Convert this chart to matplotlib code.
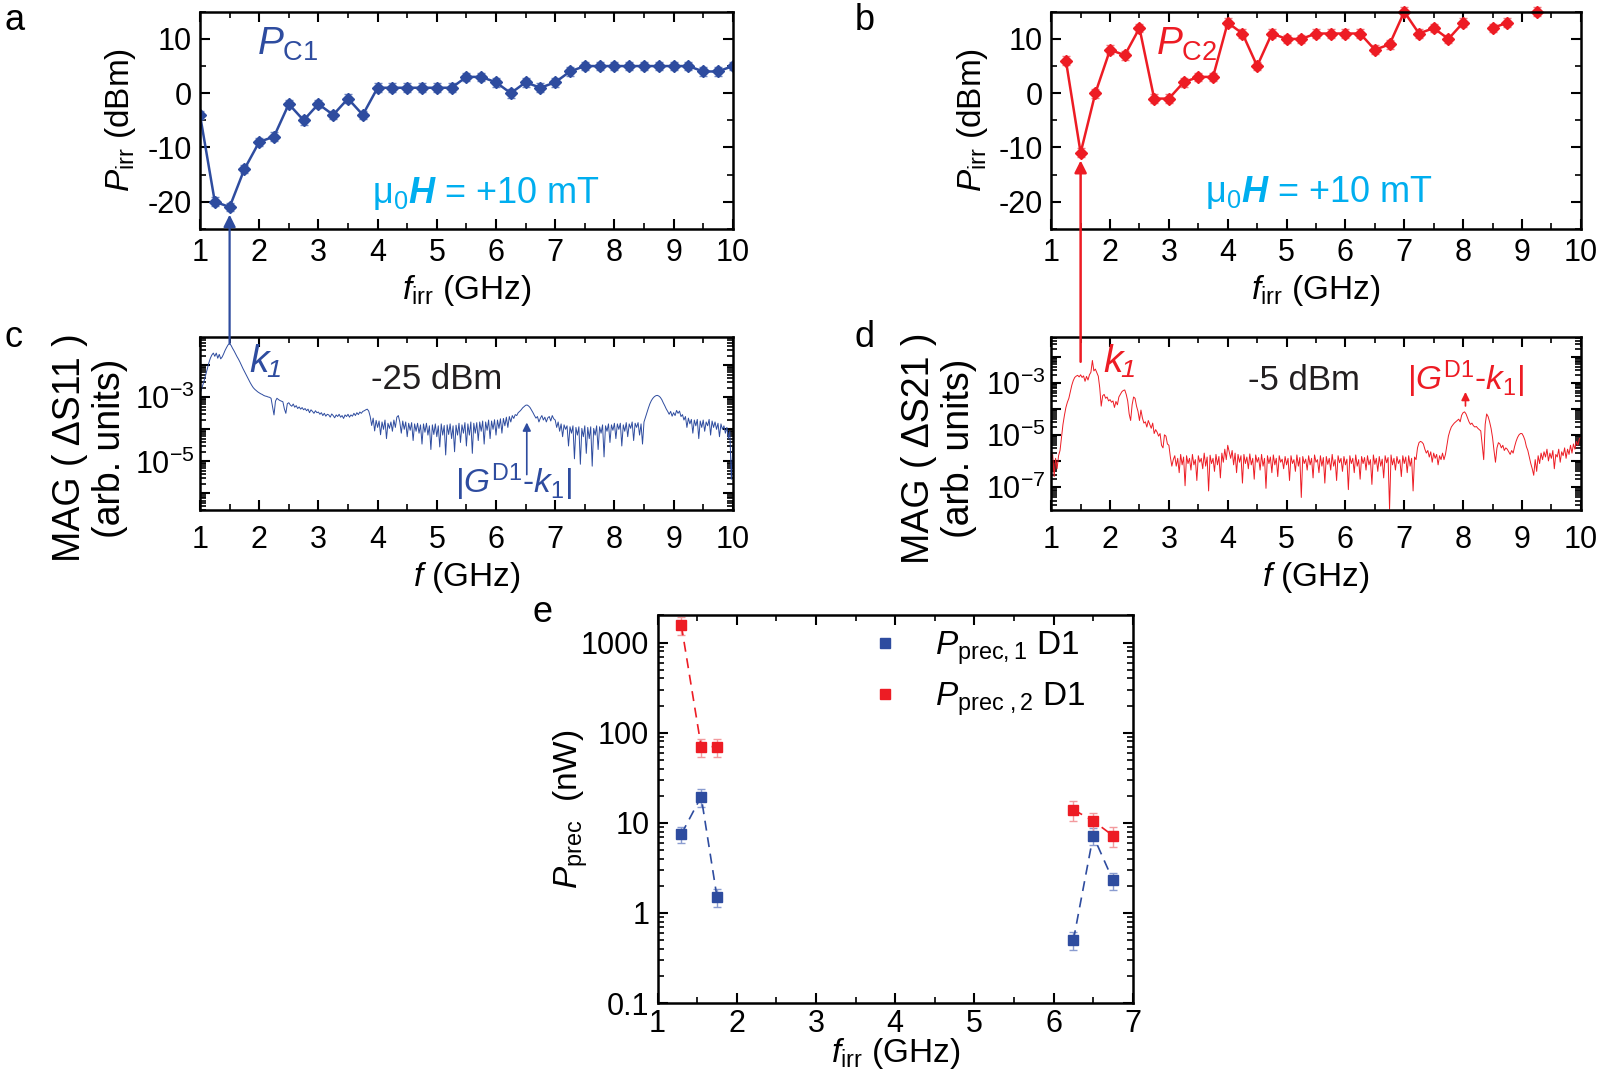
import numpy as np
import matplotlib
matplotlib.use("Agg")
import matplotlib.pyplot as plt
from matplotlib.patches import ConnectionPatch
from matplotlib.lines import Line2D
from matplotlib.ticker import FixedLocator, LogLocator, NullFormatter, FuncFormatter, MultipleLocator

plt.rcParams['font.family'] = ['Liberation Sans', 'DejaVu Sans']
plt.rcParams['mathtext.fontset'] = 'custom'
plt.rcParams['mathtext.rm'] = 'Liberation Sans'
plt.rcParams['mathtext.it'] = 'Liberation Sans:italic'
plt.rcParams['mathtext.bf'] = 'Liberation Sans:bold'
try:
    plt.rcParams['mathtext.bfit'] = 'Liberation Sans:bold:italic'
    HAS_BFIT = True
except KeyError:
    HAS_BFIT = False
plt.rcParams['axes.unicode_minus'] = False

BLUE = '#2E4C9F'
RED = '#ED1C24'
CYAN = '#00AEEF'

# ---------------- panel a data ----------------
f_irr_a = [1.0, 1.25, 1.5, 1.75, 2.0, 2.25, 2.5, 2.75, 3.0, 3.25, 3.5, 3.75, 4.0, 4.25,
           4.5, 4.75, 5.0, 5.25, 5.5, 5.75, 6.0, 6.25, 6.5, 6.75, 7.0, 7.25, 7.5, 7.75,
           8.0, 8.25, 8.5, 8.75, 9.0, 9.25, 9.5, 9.75, 10.0]
p_c1 = [-4, -20, -21, -14, -9, -8, -2, -5, -2, -4, -1, -4, 1, 1, 1, 1, 1, 1, 3, 3, 2, 0,
        2, 1, 2, 4, 5, 5, 5, 5, 5, 5, 5, 5, 4, 4, 5]
p_c1_err = [0.8] * len(p_c1)

# ---------------- panel b data ----------------
f_irr_b = [1.25, 1.5, 1.75, 2.0, 2.25, 2.5, 2.75, 3.0, 3.25, 3.5, 3.75, 4.0, 4.25, 4.5,
           4.75, 5.0, 5.25, 5.5, 5.75, 6.0, 6.25, 6.5, 6.75, 7.0, 7.25, 7.5, 7.75, 8.0,
           8.25, 8.5, 8.75, 9.0, 9.25]
p_c2 = [6, -11, 0, 8, 7, 12, -1, -1, 2, 3, 3, 13, 11, 5, 11, 10, 10, 11, 11, 11, 11, 8,
        9, 15, 11, 12, 10, 13, np.nan, 12, 13, np.nan, 15]
p_c2_err = [0.8] * len(p_c2)

# ---------------- panel c data: log10 MAG(dS11), 1-10 GHz, 0.025 GHz steps ----------------
f_spec = np.round(np.arange(361) * 0.025 + 1.0, 3)
log_s11 = [
    -2.90, -2.75, -2.60, -2.45, -2.28, -2.10, -1.92, -1.78, -1.68, -1.62,
    -1.72, -1.62, -1.78, -1.66, -1.80, -1.74, -1.64, -1.53, -1.44, -1.36,
    -1.32, -1.38, -1.47, -1.55, -1.64, -1.73, -1.81, -1.90, -2.00, -2.10,
    -2.19, -2.28, -2.37, -2.46, -2.55, -2.63, -2.70, -2.75, -2.79, -2.83,
    # 2 GHz
    -2.86, -2.89, -2.91, -2.94, -2.96, -2.97, -2.99, -3.00, -3.03, -3.30,
    -3.55, -3.12, -3.03, -3.07, -3.10, -3.12, -3.14, -3.36, -3.50, -3.20,
    -3.17, -3.24, -3.28, -3.21, -3.31, -3.26, -3.35, -3.30, -3.37, -3.32,
    -3.39, -3.35, -3.42, -3.37, -3.48, -3.39, -3.44, -3.50, -3.42, -3.48,
    # 3 GHz
    -3.46, -3.53, -3.48, -3.57, -3.50, -3.59, -3.53, -3.55, -3.62, -3.52,
    -3.57, -3.64, -3.55, -3.60, -3.53, -3.62, -3.57, -3.66, -3.55, -3.60,
    -3.53, -3.62, -3.55, -3.59, -3.50, -3.57, -3.48, -3.54, -3.46, -3.50,
    -3.44, -3.42, -3.39, -3.37, -3.43, -3.60, -3.88, -3.65, -4.05, -3.72,
    # 4 GHz
    -3.94, -3.74, -4.17, -3.77, -4.00, -3.71, -4.29, -3.81, -3.97, -3.77,
    -4.06, -3.71, -3.94, -3.62, -3.57, -3.77, -4.12, -3.74, -4.00, -3.77,
    -4.23, -3.81, -4.03, -3.79, -4.35, -3.83, -4.06, -3.81, -4.12, -3.86,
    -4.46, -3.83, -4.09, -3.81, -4.18, -3.89, -4.63, -3.86, -4.16, -3.83,
    # 5 GHz
    -4.23, -3.89, -4.55, -3.83, -4.18, -3.88, -4.80, -3.86, -4.16, -3.83,
    -4.29, -3.89, -4.70, -3.87, -4.18, -3.81, -4.41, -3.86, -4.12, -3.79,
    -4.52, -3.83, -4.18, -3.77, -4.75, -3.81, -4.12, -3.79, -4.35, -3.77,
    -4.06, -3.74, -4.46, -3.77, -4.03, -3.71, -4.29, -3.74, -4.00, -3.70,
    # 6 GHz
    -4.18, -3.71, -3.97, -3.67, -4.12, -3.66, -3.89, -3.62, -3.94, -3.60,
    -3.77, -3.57, -3.66, -3.54, -3.57, -3.48, -3.44, -3.39, -3.33, -3.29,
    -3.25, -3.24, -3.27, -3.32, -3.40, -3.48, -3.57, -3.65, -3.60, -3.77,
    -3.65, -3.57, -3.71, -3.62, -3.77, -3.64, -3.60, -3.74, -3.57, -3.67,
    # 7 GHz
    -3.71, -3.94, -3.77, -4.06, -3.83, -4.23, -3.86, -4.00, -3.89, -4.52,
    -3.92, -4.12, -3.89, -4.92, -3.94, -4.18, -3.92, -5.09, -3.97, -4.23,
    -3.89, -4.75, -3.94, -4.29, -3.92, -5.15, -3.97, -4.18, -3.89, -4.63,
    -3.92, -4.12, -3.86, -4.86, -3.89, -4.06, -3.83, -4.41, -3.86, -4.03,
    # 8 GHz
    -3.81, -4.29, -3.83, -4.00, -3.81, -4.52, -3.86, -4.06, -3.79, -4.23,
    -3.83, -3.97, -3.77, -4.35, -3.81, -3.94, -3.79, -4.18, -3.83, -4.46,
    -3.77, -3.62, -3.48, -3.33, -3.20, -3.10, -3.03, -2.98, -2.95, -2.94,
    -2.96, -3.00, -3.07, -3.17, -3.26, -3.36, -3.44, -3.53, -3.44, -3.59,
    # 9 GHz
    -3.48, -3.57, -3.41, -3.50, -3.43, -3.60, -3.54, -3.71, -3.60, -3.94,
    -3.65, -3.83, -3.69, -4.12, -3.71, -3.89, -3.69, -4.29, -3.74, -3.94,
    -3.71, -4.06, -3.77, -3.89, -3.69, -4.18, -3.74, -3.94, -3.77, -4.00,
    -3.81, -4.23, -3.83, -4.00, -3.89, -4.12, -3.94, -4.29, -4.06, -5.56,
    # 10 GHz
    -4.52,
]

# ---------------- panel d data: log10 MAG(dS21) ----------------
log_s21 = [
    -6.00, -5.75, -6.60, -5.90, -6.30, -5.80, -5.60, -5.10, -4.60, -4.25,
    -3.95, -3.75, -3.60, -3.35, -3.10, -2.92, -2.80, -2.75, -2.72, -2.78,
    -2.70, -2.80, -2.74, -2.95, -2.76, -2.90, -2.70, -2.60, -2.15, -2.55,
    -2.48, -2.62, -2.75, -3.20, -3.90, -3.50, -3.45, -3.60, -3.55, -3.70,
    # 2 GHz
    -3.65, -3.75, -3.70, -3.95, -3.72, -3.85, -3.55, -3.45, -3.35, -3.30,
    -3.28, -3.45, -3.70, -4.20, -4.45, -3.85, -3.55, -3.60, -3.90, -4.10,
    -4.45, -4.05, -4.35, -4.55, -4.50, -4.70, -4.45, -4.60, -4.75, -4.55,
    -4.95, -4.80, -4.90, -5.05, -4.95, -5.40, -5.50, -5.00, -5.05, -5.35,
    # 3 GHz
    -5.40, -5.85, -6.20, -5.95, -5.80, -6.20, -5.90, -6.45, -5.75, -6.15,
    -5.85, -6.95, -5.80, -6.10, -5.90, -6.35, -5.75, -6.15, -5.95, -6.75,
    -5.80, -6.05, -5.90, -6.30, -5.70, -6.20, -5.85, -7.15, -5.78, -6.10,
    -5.90, -6.40, -5.75, -6.15, -5.83, -6.65, -5.70, -6.05, -5.55, -5.95,
    # 4 GHz
    -5.40, -5.65, -5.90, -5.60, -6.15, -5.70, -6.45, -5.75, -6.05, -5.80,
    -6.85, -5.75, -6.10, -5.85, -6.30, -5.73, -6.15, -5.90, -6.70, -5.77,
    -6.05, -5.87, -6.35, -5.75, -6.20, -5.90, -7.05, -5.80, -6.10, -5.85,
    -6.45, -5.77, -6.15, -5.90, -6.60, -5.80, -6.05, -5.93, -6.30, -5.83,
    # 5 GHz
    -6.15, -5.90, -6.75, -5.80, -6.10, -5.95, -6.40, -5.77, -6.20, -5.87,
    -7.40, -5.83, -6.10, -5.93, -6.35, -5.80, -6.15, -5.90, -6.65, -5.77,
    -6.05, -5.95, -6.45, -5.80, -6.20, -5.87, -6.85, -5.83, -6.13, -5.90,
    -6.35, -5.75, -6.20, -5.95, -6.75, -5.80, -6.07, -5.90, -6.40, -5.83,
    # 6 GHz
    -6.15, -5.93, -7.10, -5.80, -6.10, -5.90, -6.45, -5.77, -6.20, -5.95,
    -6.70, -5.83, -6.10, -5.87, -6.35, -5.80, -6.15, -5.95, -6.90, -5.77,
    -6.13, -5.90, -6.40, -5.83, -6.20, -5.93, -6.65, -5.80, -6.07, -5.87,
    -7.85, -5.77, -6.15, -5.90, -6.35, -5.83, -6.10, -5.95, -6.60, -5.80,
    # 7 GHz
    -6.10, -5.85, -6.45, -5.80, -6.20, -5.90, -7.15, -5.85, -5.95, -5.50,
    -5.30, -5.25, -5.28, -5.35, -5.55, -5.70, -5.60, -5.85, -5.65, -6.05,
    -5.70, -5.90, -5.75, -6.15, -5.80, -5.95, -5.70, -5.95, -5.75, -5.40,
    -5.05, -4.85, -4.70, -4.62, -4.55, -4.50, -4.45, -4.40, -4.50, -4.25,
    # 8 GHz
    -4.15, -4.12, -4.20, -4.35, -4.50, -4.60, -4.55, -4.65, -4.70, -4.68,
    -4.75, -4.80, -4.85, -5.40, -5.95, -4.60, -4.20, -4.30, -4.50, -4.75,
    -5.10, -5.60, -6.05, -5.50, -5.30, -5.35, -5.50, -5.40, -5.60, -5.50,
    -5.55, -5.65, -5.75, -5.60, -5.70, -5.45, -5.25, -5.10, -5.00, -4.95,
    # 9 GHz
    -4.95, -5.05, -5.20, -5.45, -5.60, -5.85, -6.10, -6.30, -6.55, -5.95,
    -6.40, -5.80, -6.10, -5.70, -5.95, -5.65, -5.85, -5.55, -6.00, -5.70,
    -5.90, -5.60, -6.30, -5.75, -5.85, -5.55, -6.05, -5.65, -5.80, -5.50,
    -5.90, -5.55, -5.75, -5.40, -5.70, -5.35, -5.55, -5.25, -5.40, -5.15,
    # 10 GHz
    -5.10,
]

# ---------------- panel e data ----------------
f_irr_e = [1.3, 1.55, 1.75, 6.25, 6.5, 6.75]
p_prec1 = [7.5, 19.5, 1.5, 0.5, 7.2, 2.3]
p_prec1_err = [1.5, 4.5, 0.35, 0.11, 1.5, 0.5]
p_prec2 = [1550, 70, 70, 14, 10.5, 7.2]
p_prec2_err = [350, 16, 16, 3.5, 2.5, 1.8]

mag_s11 = 10.0 ** np.array(log_s11)
mag_s21 = 10.0 ** np.array(log_s21)

TICK_FS = 22
LABEL_FS = 24

fig = plt.figure(figsize=(16, 10.74), dpi=100)

ax_a = fig.add_axes([0.125, 0.787, 0.333, 0.202])
ax_b = fig.add_axes([0.657, 0.787, 0.331, 0.202])
ax_c = fig.add_axes([0.125, 0.525, 0.333, 0.161])
ax_d = fig.add_axes([0.657, 0.525, 0.331, 0.161])
ax_e = fig.add_axes([0.411, 0.066, 0.297, 0.361])


def style(ax, xpad=7, ypad=6):
    for s in ax.spines.values():
        s.set_linewidth(1.8)
    ax.tick_params(which='both', direction='in', top=True, right=True,
                   labelsize=TICK_FS)
    ax.tick_params(axis='x', which='both', pad=xpad)
    ax.tick_params(axis='y', which='both', pad=ypad)
    ax.tick_params(which='major', length=7, width=1.5)
    ax.tick_params(which='minor', length=4, width=1.2)


# ---- a ----
ax_a.errorbar(f_irr_a, p_c1, yerr=p_c1_err, fmt='-D', color=BLUE, ms=6.5, lw=1.8,
              ecolor='#6f86c4', elinewidth=1.0, capsize=3, capthick=1.0)
ax_a.set_xlim(1, 10)
ax_a.set_ylim(-25, 15)
ax_a.xaxis.set_major_locator(MultipleLocator(1))
ax_a.xaxis.set_minor_locator(MultipleLocator(0.5))
ax_a.yaxis.set_major_locator(MultipleLocator(10))
ax_a.yaxis.set_minor_locator(MultipleLocator(5))
style(ax_a)
ax_a.set_xlabel(r'$f_{\rm irr}$ (GHz)', fontsize=LABEL_FS, labelpad=3)
ax_a.set_ylabel(r'$P_{\rm irr}$ (dBm)', fontsize=LABEL_FS)
ax_a.yaxis.set_label_coords(-0.117, 0.5)
ax_a.text(1.97, 7.1, r'$P_{\rm C1}$', color=BLUE, fontsize=28, ha='left', va='baseline')
htxt = r'μ$_{0}\mathbfit{H}$ = +10 mT' if HAS_BFIT else r'μ$_{0}\mathbf{H}$ = +10 mT'
ax_a.text(5.83, -20.2, htxt, color=CYAN, fontsize=26, ha='center', va='baseline')

# ---- b ----
ax_b.errorbar(f_irr_b, p_c2, yerr=p_c2_err, fmt='-D', color=RED, ms=6.5, lw=1.8,
              ecolor='#f07a80', elinewidth=1.0, capsize=3, capthick=1.0, clip_on=False)
ax_b.set_xlim(1, 10)
ax_b.set_ylim(-25, 15)
ax_b.xaxis.set_major_locator(MultipleLocator(1))
ax_b.xaxis.set_minor_locator(MultipleLocator(0.5))
ax_b.yaxis.set_major_locator(MultipleLocator(10))
ax_b.yaxis.set_minor_locator(MultipleLocator(5))
style(ax_b)
ax_b.set_xlabel(r'$f_{\rm irr}$ (GHz)', fontsize=LABEL_FS, labelpad=3)
ax_b.set_ylabel(r'$P_{\rm irr}$ (dBm)', fontsize=LABEL_FS)
ax_b.yaxis.set_label_coords(-0.115, 0.5)
ax_b.text(2.78, 7.1, r'$P_{\rm C2}$', color=RED, fontsize=28, ha='left', va='baseline')
ax_b.text(5.55, -20.0, htxt, color=CYAN, fontsize=26, ha='center', va='baseline')


def log_fmt(keep):
    def f(v, pos):
        e = int(round(np.log10(v)))
        return r'$10^{%d}$' % e if e in keep else ''
    return FuncFormatter(f)


# ---- c ----
ax_c.plot(f_spec, mag_s11, color=BLUE, lw=0.7)
ax_c.set_yscale('log')
ax_c.set_xlim(1, 10)
ax_c.set_ylim(3e-7, 7.5e-2)
ax_c.xaxis.set_major_locator(MultipleLocator(1))
ax_c.xaxis.set_minor_locator(MultipleLocator(0.5))
ax_c.yaxis.set_major_locator(LogLocator(base=10, subs=(1.0,), numticks=20))
ax_c.yaxis.set_minor_locator(LogLocator(base=10, subs=np.arange(2, 10), numticks=20))
ax_c.yaxis.set_major_formatter(log_fmt([-3, -5]))
ax_c.yaxis.set_minor_formatter(NullFormatter())
style(ax_c, xpad=11, ypad=4)
ax_c.set_xlabel(r'$f$ (GHz)', fontsize=LABEL_FS, labelpad=3)
ax_c.set_ylabel('MAG ( ΔS11 )\n(arb. units)', fontsize=27, linespacing=1.15)
ax_c.yaxis.set_label_coords(-0.135, 0.36)
ax_c.text(1.83, 10 ** -1.9, 'k₁', color=BLUE, fontsize=28, style='italic',
          ha='left', va='center')
ax_c.text(5.0, 10 ** -2.45, '-25 dBm', color='#231f20', fontsize=25, ha='center', va='center')
ax_c.annotate('', xy=(6.52, 10 ** -3.7), xytext=(6.52, 10 ** -5.5),
              arrowprops=dict(arrowstyle='-|>', color=BLUE, lw=1.2, mutation_scale=12))
ax_c.text(6.29, 10 ** -5.65, r'|$G^{\rm D1}$-$k_{1}$|', color=BLUE, fontsize=24,
          ha='center', va='center')

# ---- d ----
ax_d.plot(f_spec, mag_s21, color=RED, lw=0.7)
ax_d.set_yscale('log')
ax_d.set_xlim(1, 10)
ax_d.set_ylim(1.3e-8, 5.5e-2)
ax_d.xaxis.set_major_locator(MultipleLocator(1))
ax_d.xaxis.set_minor_locator(MultipleLocator(0.5))
ax_d.yaxis.set_major_locator(LogLocator(base=10, subs=(1.0,), numticks=20))
ax_d.yaxis.set_minor_locator(LogLocator(base=10, subs=np.arange(2, 10), numticks=20))
ax_d.yaxis.set_major_formatter(log_fmt([-3, -5, -7]))
ax_d.yaxis.set_minor_formatter(NullFormatter())
style(ax_d, xpad=11, ypad=4)
ax_d.set_xlabel(r'$f$ (GHz)', fontsize=LABEL_FS, labelpad=3)
ax_d.set_ylabel('MAG ( ΔS21 )\n(arb. units)', fontsize=27, linespacing=1.15)
ax_d.yaxis.set_label_coords(-0.14, 0.36)
ax_d.text(1.88, 10 ** -2.2, 'k₁', color=RED, fontsize=28, style='italic',
          ha='left', va='center')
ax_d.text(5.29, 10 ** -2.9, '-5 dBm', color='#231f20', fontsize=25, ha='center', va='center')
ax_d.annotate('', xy=(8.04, 10 ** -3.25), xytext=(8.04, 10 ** -4.0),
              arrowprops=dict(arrowstyle='-|>', color=RED, lw=1.2, mutation_scale=12))
ax_d.text(8.04, 10 ** -2.88, r'|$G^{\rm D1}$-$k_{1}$|', color=RED, fontsize=24,
          ha='center', va='center')

# ---- e ----
ax_e.errorbar(f_irr_e, p_prec1, yerr=p_prec1_err, fmt='s', color=BLUE, ms=7,
              ecolor='#8a9cd0', elinewidth=1.0, capsize=3, capthick=1.0)
ax_e.errorbar(f_irr_e, p_prec2, yerr=p_prec2_err, fmt='s', color=RED, ms=7,
              ecolor='#f39a9e', elinewidth=1.0, capsize=3, capthick=1.0)
for lo, hi in [(0, 3), (3, 6)]:
    ax_e.plot(f_irr_e[lo:hi], p_prec1[lo:hi], color=BLUE, lw=1.2, ls=(0, (6, 4)))
    ax_e.plot(f_irr_e[lo:hi], p_prec2[lo:hi], color=RED, lw=1.2, ls=(0, (6, 4)))
ax_e.set_yscale('log')
ax_e.set_xlim(1, 7)
ax_e.set_ylim(0.1, 2000)
ax_e.xaxis.set_major_locator(MultipleLocator(1))
ax_e.xaxis.set_minor_locator(MultipleLocator(0.5))
ax_e.yaxis.set_major_locator(FixedLocator([0.1, 1, 10, 100, 1000]))
ax_e.yaxis.set_major_formatter(FuncFormatter(lambda v, p: ('%g' % v)))
ax_e.yaxis.set_minor_locator(LogLocator(base=10, subs=np.arange(2, 10), numticks=20))
ax_e.yaxis.set_minor_formatter(NullFormatter())
style(ax_e, xpad=4)
ax_e.set_xlabel(r'$f_{\rm irr}$ (GHz)', fontsize=LABEL_FS, labelpad=-2)
ax_e.set_ylabel(r'$P_{\rm prec}$  (nW)', fontsize=LABEL_FS)
ax_e.yaxis.set_label_coords(-0.143, 0.5)
handles = [Line2D([], [], marker='s', color=BLUE, ls='none', ms=7),
           Line2D([], [], marker='s', color=RED, ls='none', ms=7)]
ax_e.legend(handles, [r'$P_{\rm prec,1}$ D1', r'$P_{\rm prec\ ,2}$ D1'],
            loc='upper left', bbox_to_anchor=(0.38, 1.04), frameon=False,
            fontsize=24, handlelength=1.0, handletextpad=1.0, labelspacing=0.4)

# ---- connecting arrows ----
con1 = ConnectionPatch(xyA=(1.5, 10 ** -1.32), coordsA=ax_c.transData,
                       xyB=(1.5, -22.4), coordsB=ax_a.transData,
                       arrowstyle='-|>', color=BLUE, lw=1.6, mutation_scale=18)
fig.add_artist(con1)
con2 = ConnectionPatch(xyA=(1.5, 10 ** -2.2), coordsA=ax_d.transData,
                       xyB=(1.5, -12.4), coordsB=ax_b.transData,
                       arrowstyle='-|>', color=RED, lw=1.8, mutation_scale=18)
fig.add_artist(con2)

# ---- panel letters ----
for lab, x, y in [('a', 0.003, 0.981), ('b', 0.534, 0.981), ('c', 0.003, 0.686),
                  ('d', 0.534, 0.686), ('e', 0.333, 0.430)]:
    fig.text(x, y, lab, fontsize=26, ha='left', va='center')

fig.savefig('out.png', dpi=100)
